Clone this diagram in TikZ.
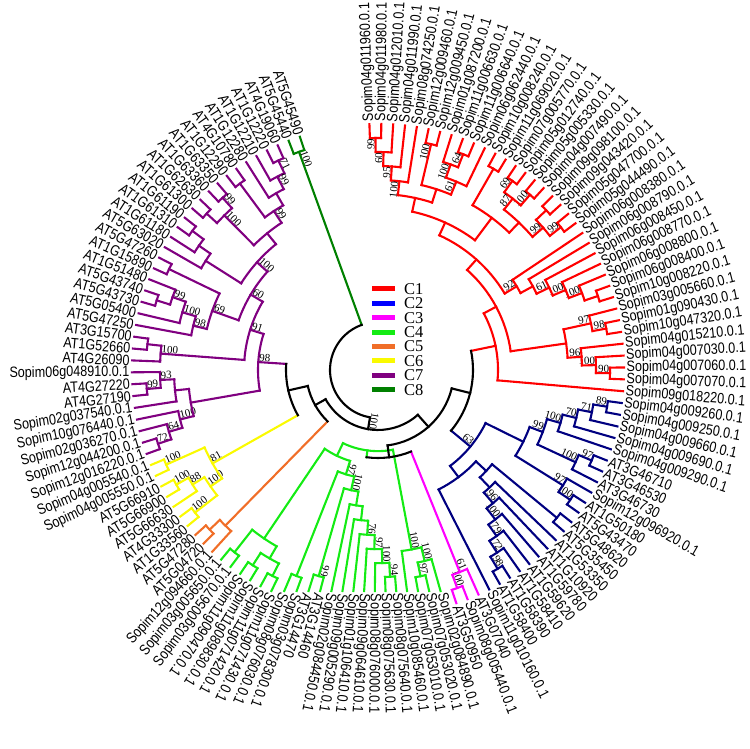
\documentclass[tikz,border=0pt]{standalone}
\usepackage{fontspec}
\setmainfont{Liberation Serif}
\newfontfamily\leaffont[FakeStretch=0.84]{Liberation Sans}
\newfontfamily\bsfont{Liberation Serif}
\definecolor{c1}{RGB}{255,0,0}
\definecolor{c2}{RGB}{0,0,128}
\definecolor{k2}{RGB}{0,0,255}
\definecolor{c3}{RGB}{255,0,255}
\definecolor{c4}{RGB}{20,235,20}
\definecolor{c5}{RGB}{240,110,40}
\definecolor{c6}{RGB}{250,250,0}
\definecolor{c7}{RGB}{128,0,128}
\definecolor{c8}{RGB}{0,128,0}
\def\stp{2.77}
\def\dstp{14}
\newif\ifflat
\newcommand{\Lf}[3]{%
  \pgfmathsetmacro\lfa{92-#2*\stp}%
  \ifflat\pgfmathsetmacro\lfR{min(246,221/abs(sin(\lfa)))}\else\def\lfR{246}\fi
  \pgfmathsetmacro\lfr{\lfR+2.5}%
  \expandafter\xdef\csname ang@#1\endcsname{\lfa}%
  \expandafter\xdef\csname rad@#1\endcsname{\lfR}%
  \expandafter\xdef\csname col@#1\endcsname{\ccol}%
  \coordinate (#1) at (\lfa:\lfR pt);
  \pgfmathtruncatemacro\lff{\lfa>-125.4}%
  \ifnum\lff=1
    \node[leaflab,rotate=\lfa,anchor=west] (t#1) at (\lfa:\lfr pt) {#3};
  \else
    \pgfmathsetmacro\lfb{\lfa+180}%
    \node[leaflab,rotate=\lfb,anchor=east] (t#1) at (\lfa:\lfr pt) {#3};
  \fi
}
\newcommand{\Jn}[6]{%
  \edef\jaA{\csname ang@#4\endcsname}%
  \edef\jaB{\csname ang@#5\endcsname}%
  \edef\jrA{\csname rad@#4\endcsname}%
  \edef\jrB{\csname rad@#5\endcsname}%
  \edef\jcA{\csname col@#4\endcsname}%
  \edef\jcB{\csname col@#5\endcsname}%
  \pgfmathsetmacro\jam{(\jaA+\jaB)/2}%
  \if\relax\detokenize{#2}\relax\pgfmathsetmacro\jrn{min(\jrA,\jrB)-\dstp}\else\pgfmathsetmacro\jrn{#2}\fi
  \draw[tl,color=\jcA] (#4) -- (\jaA:\jrn pt);
  \draw[tl,color=\jcB] (#5) -- (\jaB:\jrn pt);
  \draw[tl,color=#3] (\jaA:\jrn pt) arc[start angle=\jaA,end angle=\jaB,radius=\jrn pt];
  \coordinate (#1) at (\jam:\jrn pt);
  \expandafter\xdef\csname ang@#1\endcsname{\jam}%
  \expandafter\xdef\csname rad@#1\endcsname{\jrn}%
  \expandafter\xdef\csname col@#1\endcsname{#3}%
  \if\relax\detokenize{#6}\relax\else
    \pgfmathtruncatemacro\jfl{\jam>-125.4}%
    \ifnum\jfl=1
      \node[bs,rotate=\jam,anchor=south east] (v#1) at (\jam:\jrn pt) {#6};
    \else
      \pgfmathsetmacro\jrot{\jam+180}%
      \node[bs,rotate=\jrot,anchor=south west] (v#1) at (\jam:\jrn pt) {#6};
    \fi
  \fi
}
\begin{document}
\begin{tikzpicture}[x=1pt,y=1pt,
  tl/.style={line width=2.1pt,line cap=rect},
  leaflab/.style={font=\leaffont\fontsize{15}{15}\selectfont,inner sep=0pt},
  bs/.style={font=\bsfont\fontsize{11}{11}\selectfont,inner sep=0.6pt},
  keybar/.style={minimum width=23pt,minimum height=5pt,inner sep=0pt},
  keytext/.style={anchor=west,font=\fontsize{16.5}{16.5}\selectfont,inner sep=0pt}]
\useasboundingbox (-378,-379) rectangle (372,370);
% ---------------- C1 red
\def\ccol{c1}
\Lf{L0}{0}{Sopim04g011960.0.1}
\Lf{L1}{1}{Sopim04g011980.0.1}
\Lf{L2}{2}{Sopim04g012010.0.1}
\Lf{L3}{3}{Sopim04g011990.0.1}
\Lf{L4}{4}{Sopim08g074250.0.1}
\Lf{L5}{5}{Sopim12g009460.0.1}
\Lf{L6}{6}{Sopim12g009450.0.1}
\Lf{L7}{7}{Sopim01g087200.0.1}
\Lf{L8}{8}{Sopim11g006630.0.1}
\Lf{L9}{9}{Sopim11g006640.0.1}
\Lf{L10}{10}{Sopim06g062440.0.1}
\Lf{L11}{11}{Sopim10g008240.0.1}
\Lf{L12}{12}{Sopim11g069020.0.1}
\Lf{L13}{13}{Sopim07g005770.0.1}
\Lf{L14}{14}{Sopim05g012740.0.1}
\Lf{L15}{15}{Sopim05g005330.0.1}
\Lf{L16}{16}{Sopim04g007490.0.1}
\Lf{L17}{17}{Sopim09g098100.0.1}
\Lf{L18}{18}{Sopim09g043420.0.1}
\Lf{L19}{19}{Sopim05g047700.0.1}
\Lf{L20}{20}{Sopim05g044490.0.1}
\Lf{L21}{21}{Sopim06g008380.0.1}
\Lf{L22}{22}{Sopim06g008790.0.1}
\Lf{L23}{23}{Sopim06g008450.0.1}
\Lf{L24}{24}{Sopim06g008770.0.1}
\Lf{L25}{25}{Sopim06g008800.0.1}
\Lf{L26}{26}{Sopim06g008400.0.1}
\Lf{L27}{27}{Sopim10g008220.0.1}
\Lf{L28}{28}{Sopim03g005660.0.1}
\Lf{L29}{29}{Sopim01g090430.0.1}
\Lf{L30}{30}{Sopim10g047320.0.1}
\Lf{L31}{31}{Sopim04g015210.0.1}
\Lf{L32}{32}{Sopim04g007030.0.1}
\Lf{L33}{33}{Sopim04g007060.0.1}
\Lf{L34}{34}{Sopim04g007070.0.1}
\Lf{L35}{35}{Sopim09g018220.0.1}
% ---------------- C2 blue
\def\ccol{c2}
\Lf{L36}{36}{Sopim04g009260.0.1}
\Lf{L37}{37}{Sopim04g009250.0.1}
\Lf{L38}{38}{Sopim04g009660.0.1}
\Lf{L39}{39}{Sopim04g009690.0.1}
\Lf{L40}{40}{Sopim04g009290.0.1}
\Lf{L41}{41}{AT3G46710}
\Lf{L42}{42}{AT3G46530}
\Lf{L43}{43}{AT3G46730}
\Lf{L44}{44}{Sopim12g096920.0.1}
\Lf{L45}{45}{AT1G50180}
\Lf{L46}{46}{AT5G43470}
\Lf{L47}{47}{AT5G48620}
\Lf{L48}{48}{AT5G35450}
\Lf{L49}{49}{AT1G53350}
\Lf{L50}{50}{AT1G10920}
\Lf{L51}{51}{AT1G59780}
\Lf{L52}{52}{AT1G59620}
\Lf{L53}{53}{AT1G58410}
\Lf{L54}{54}{AT1G58390}
\Lf{L55}{55}{AT1G58400}
\Lf{L56}{56}{Sopim11g010160.0.1}
% ---------------- C3 magenta
\def\ccol{c3}
\Lf{L57}{57}{AT3G07040}
\Lf{L58}{58}{Sopim08g005440.0.1}
\Lf{L59}{59}{AT3G50950}
% ---------------- C4 green
\def\ccol{c4}
\flattrue
\Lf{L60}{60}{Sopim02g084890.0.1}
\Lf{L61}{61}{Sopim07g053020.0.1}
\Lf{L62}{62}{Sopim07g053010.0.1}
\Lf{L63}{63}{Sopim10g085460.0.1}
\Lf{L64}{64}{Sopim08g075640.0.1}
\Lf{L65}{65}{Sopim08g075630.0.1}
\Lf{L66}{66}{Sopim08g076000.0.1}
\Lf{L67}{67}{Sopim09g064610.0.1}
\Lf{L68}{68}{Sopim01g106410.0.1}
\Lf{L69}{69}{Sopim09g005290.0.1}
\Lf{L70}{70}{Sopim02g084450.0.1}
\Lf{L71}{71}{AT3G14460}
\Lf{L72}{72}{AT3G14470}
\Lf{L73}{73}{Sopim03g078300.0.1}
\Lf{L74}{74}{Sopim08g076030.0.1}
\Lf{L75}{75}{Sopim11g071430.0.1}
\Lf{L76}{76}{Sopim11g071420.0.1}
\Lf{L77}{77}{Sopim11g089830.0.1}
\Lf{L78}{78}{Sopim11g090470.0.1}
\Lf{L79}{79}{Sopim03g005670.0.1}
\Lf{L80}{80}{Sopim03g005650.0.1}
\flatfalse
% ---------------- C5 orange
\def\ccol{c5}
\Lf{L81}{81}{Sopim12g094660.0.1}
\Lf{L82}{82}{AT5G04720}
\Lf{L83}{83}{AT5G47280}
% ---------------- C6 yellow
\def\ccol{c6}
\Lf{L84}{84}{AT1G33560}
\Lf{L85}{85}{AT4G33300}
\Lf{L86}{86}{AT5G66630}
\Lf{L87}{87}{AT5G66900}
\Lf{L88}{88}{AT5G66910}
\Lf{L89}{89}{Sopim04g005550.0.1}
\Lf{L90}{90}{Sopim04g005540.0.1}
% ---------------- C7 purple
\def\ccol{c7}
\Lf{L91}{91}{Sopim12g016220.0.1}
\Lf{L92}{92}{Sopim12g044200.0.1}
\Lf{L93}{93}{Sopim02g036270.0.1}
\Lf{L94}{94}{Sopim10g076440.0.1}
\Lf{L95}{95}{Sopim02g037540.0.1}
\Lf{L96}{96}{AT4G27190}
\Lf{L97}{97}{AT4G27220}
\Lf{L98}{98}{Sopim06g048910.0.1}
\Lf{L99}{99}{AT4G26090}
\Lf{L100}{100}{AT1G52660}
\Lf{L101}{101}{AT3G15700}
\Lf{L102}{102}{AT5G47250}
\Lf{L103}{103}{AT5G05400}
\Lf{L104}{104}{AT5G43730}
\Lf{L105}{105}{AT5G43740}
\Lf{L106}{106}{AT1G51480}
\Lf{L107}{107}{AT1G15890}
\Lf{L108}{108}{AT5G47260}
\Lf{L109}{109}{AT5G63020}
\Lf{L110}{110}{AT1G61180}
\Lf{L111}{111}{AT1G61310}
\Lf{L112}{112}{AT1G61190}
\Lf{L113}{113}{AT1G61300}
\Lf{L114}{114}{AT1G62630}
\Lf{L115}{115}{AT1G63360}
\Lf{L116}{116}{AT1G63350}
\Lf{L117}{117}{AT1G12290}
\Lf{L118}{118}{AT4G10780}
\Lf{L119}{119}{AT1G12280}
\Lf{L120}{120}{AT1G12210}
\Lf{L121}{121}{AT1G12220}
\Lf{L122}{122}{AT4G19060}
% ---------------- C8 dark green
\def\ccol{c8}
\Lf{L123}{123}{AT5G45440}
\Lf{L124}{124}{AT5G45490}
% ======== red clade
\Jn{r1}{}{c1}{L0}{L1}{99}
\Jn{r2}{}{c1}{r1}{L2}{60}
\Jn{r3}{}{c1}{r2}{L3}{95}
\Jn{r4}{}{c1}{r3}{L4}{100}
\Jn{r5}{}{c1}{L5}{L6}{100}
\Jn{r6}{}{c1}{L8}{L9}{64}
\Jn{r7}{}{c1}{L7}{r6}{100}
\Jn{r8}{}{c1}{r7}{L10}{61}
\Jn{r9}{}{c1}{r5}{r8}{}
\Jn{r10}{}{c1}{r4}{r9}{}
\Jn{r11}{}{c1}{L11}{L12}{}
\Jn{r12}{}{c1}{L13}{L14}{69}
\Jn{r13}{}{c1}{L15}{L16}{100}
\Jn{r14}{}{c1}{r12}{r13}{87}
\Jn{r15}{}{c1}{L17}{L18}{}
\Jn{r16}{}{c1}{L19}{L20}{99}
\Jn{r17}{}{c1}{r15}{r16}{99}
\Jn{r18}{}{c1}{r14}{r17}{}
\Jn{r19}{}{c1}{r11}{r18}{}
\Jn{r20}{}{c1}{r10}{r19}{}
\Jn{r21}{}{c1}{L26}{L27}{}
\Jn{r22}{}{c1}{L25}{r21}{100}
\Jn{r23}{}{c1}{L24}{r22}{100}
\Jn{r24}{}{c1}{L23}{r23}{61}
\Jn{r25}{}{c1}{L22}{r24}{}
\Jn{r26}{}{c1}{L21}{r25}{92}
\Jn{r27}{}{c1}{r20}{r26}{}
\Jn{r28}{}{c1}{L29}{L30}{98}
\Jn{r29}{}{c1}{L28}{r28}{97}
\Jn{r30}{}{c1}{L33}{L34}{90}
\Jn{r31}{}{c1}{L32}{r30}{100}
\Jn{r32}{}{c1}{L31}{r31}{96}
\Jn{r33}{}{c1}{r29}{r32}{}
\Jn{r34}{}{c1}{r27}{r33}{}
\Jn{Kred}{}{c1}{r34}{L35}{}
% ======== blue clade
\Jn{b1}{}{c2}{L36}{L37}{89}
\Jn{b2}{}{c2}{b1}{L38}{71}
\Jn{b3}{}{c2}{b2}{L39}{70}
\Jn{b4}{}{c2}{b3}{L40}{100}
\Jn{b5}{}{c2}{L41}{L42}{97}
\Jn{b6}{}{c2}{b5}{L43}{100}
\Jn{b7}{}{c2}{b4}{b6}{99}
\Jn{b8}{}{c2}{L45}{L46}{100}
\Jn{b9}{}{c2}{L44}{b8}{97}
\Jn{b10}{}{c2}{b7}{b9}{}
\Jn{b11}{}{c2}{L54}{L55}{98}
\Jn{b12}{}{c2}{L53}{b11}{72}
\Jn{b13}{}{c2}{L52}{b12}{79}
\Jn{b14}{}{c2}{L51}{b13}{100}
\Jn{b15}{}{c2}{L50}{b14}{96}
\Jn{b16}{}{c2}{L49}{b15}{}
\Jn{b17}{}{c2}{L47}{L48}{}
\Jn{b18}{}{c2}{b17}{b16}{}
\Jn{b19}{}{c2}{b18}{L56}{}
\Jn{Kblue}{}{c2}{b10}{b19}{63}
% ======== magenta clade
\Jn{m1}{}{c3}{L58}{L59}{100}
\Jn{Kmag}{}{c3}{L57}{m1}{61}
% ======== green clade
\Jn{g1}{}{c4}{L61}{L62}{97}
\Jn{g2}{}{c4}{L60}{g1}{100}
\Jn{g3}{}{c4}{g2}{L63}{100}
\Jn{g4}{}{c4}{L64}{L65}{94}
\Jn{g5}{}{c4}{g4}{L66}{100}
\Jn{g6}{}{c4}{g5}{L67}{97}
\Jn{g7}{}{c4}{g6}{L68}{76}
\Jn{g8}{}{c4}{g7}{L69}{}
\Jn{g9}{}{c4}{g8}{L70}{}
\Jn{g10}{}{c4}{L71}{L72}{99}
\Jn{g11}{}{c4}{g9}{g10}{100}
\Jn{g12}{}{c4}{L73}{L74}{}
\Jn{g13}{}{c4}{g11}{g12}{97}
\Jn{g14}{}{c4}{L75}{L76}{}
\Jn{g15}{}{c4}{L77}{L78}{}
\Jn{g16}{}{c4}{g14}{g15}{}
\Jn{g17}{}{c4}{L79}{L80}{}
\Jn{g18}{}{c4}{g16}{g17}{}
\Jn{g19}{}{c4}{g13}{g18}{}
\Jn{Kgreen}{}{c4}{g3}{g19}{}
% ======== orange clade
\Jn{o1}{}{c5}{L82}{L83}{}
\Jn{Korange}{}{c5}{L81}{o1}{}
% ======== yellow clade
\Jn{y1}{}{c6}{L84}{L85}{100}
\Jn{y2}{}{c6}{L87}{L88}{100}
\Jn{y3}{}{c6}{L86}{y2}{88}
\Jn{y4}{}{c6}{y1}{y3}{100}
\Jn{y5}{}{c6}{L89}{L90}{100}
\Jn{Kyellow}{}{c6}{y4}{y5}{81}
% ======== purple clade
\Jn{p1}{}{c7}{L91}{L92}{72}
\Jn{p2}{}{c7}{p1}{L93}{64}
\Jn{p3}{}{c7}{p2}{L94}{100}
\Jn{p4}{}{c7}{L96}{L97}{99}
\Jn{p5}{}{c7}{p4}{L98}{93}
\Jn{p6}{}{c7}{L95}{p5}{}
\Jn{p7}{}{c7}{p3}{p6}{}
\Jn{p8}{}{c7}{L100}{L101}{}
\Jn{p9}{}{c7}{L99}{p8}{100}
\Jn{p10}{}{c7}{L104}{L105}{}
\Jn{p11}{}{c7}{p10}{L106}{99}
\Jn{p12}{}{c7}{L103}{p11}{100}
\Jn{p13}{}{c7}{L102}{p12}{98}
\Jn{p14}{}{c7}{L107}{L108}{}
\Jn{p15}{}{c7}{p13}{p14}{69}
\Jn{p16}{}{c7}{L111}{L112}{}
\Jn{p17}{}{c7}{L110}{p16}{}
\Jn{p18}{}{c7}{L109}{p17}{}
\Jn{p19}{}{c7}{L113}{L114}{}
\Jn{p20}{}{c7}{L115}{L116}{99}
\Jn{p21}{}{c7}{p19}{p20}{100}
\Jn{p22}{}{c7}{L117}{L118}{}
\Jn{p23}{}{c7}{L121}{L122}{71}
\Jn{p24}{}{c7}{L120}{p23}{99}
\Jn{p25}{}{c7}{L119}{p24}{}
\Jn{p26}{}{c7}{p22}{p25}{99}
\Jn{p27}{}{c7}{p21}{p26}{}
\Jn{p28}{}{c7}{p18}{p27}{100}
\Jn{p29}{}{c7}{p15}{p28}{60}
\Jn{p30}{}{c7}{p9}{p29}{91}
\Jn{Kpurple}{}{c7}{p7}{p30}{98}
% ======== C8
\Jn{Kc8}{}{c8}{L123}{L124}{100}
% ======== backbone
\Jn{Hn}{95}{black}{Kred}{Kblue}{}
\Jn{Gn}{88}{black}{Kgreen}{Kmag}{}
\Jn{Dn}{76}{black}{Gn}{Hn}{}
\Jn{Pn}{92}{black}{Kpurple}{Kyellow}{}
\Jn{Bn}{72}{black}{Pn}{Korange}{}
\Jn{An}{60}{black}{Bn}{Dn}{100}
\Jn{Root}{48}{black}{Kc8}{An}{}
% ======== legend
\foreach \i/\kc/\kt in {0/c1/C1,1/k2/C2,2/c3/C3,3/c4/C4,4/c5/C5,5/c6/C6,6/c7/C7,7/c8/C8}{
  \node[keybar,fill=\kc] (key\i) at (5.5,81-\i*14.4) {};
  \node[keytext] (kt\i) at (26,81-\i*14.4) {\kt};
}
\end{tikzpicture}
\end{document}
